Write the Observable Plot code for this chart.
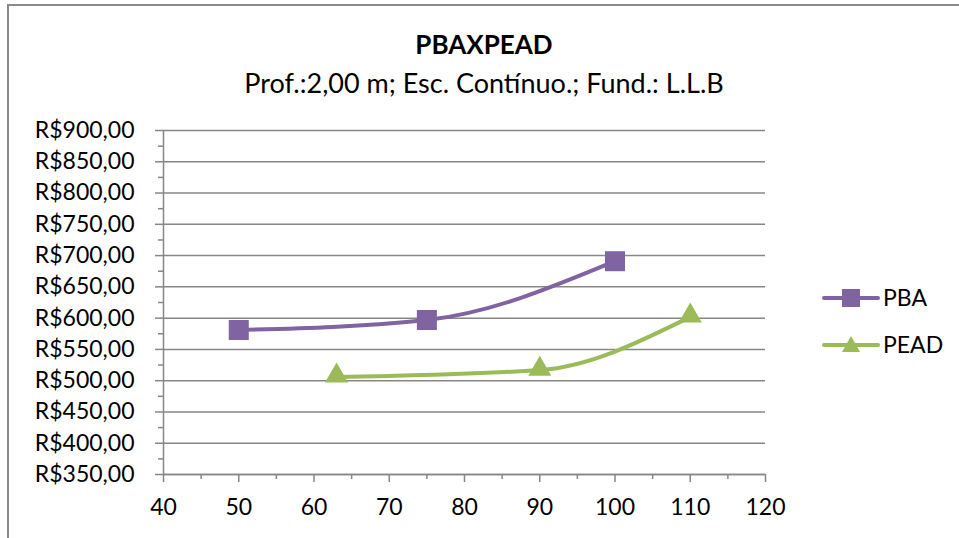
<!DOCTYPE html>
<html>
<head>
<meta charset="utf-8">
<script src="https://cdn.jsdelivr.net/npm/d3@7"></script>
<script src="https://cdn.jsdelivr.net/npm/@observablehq/plot@0.6"></script>
<style>
  html, body { margin: 0; padding: 0; background: #fff; }
  #wrap { position: relative; width: 959px; height: 538px; font-family: Lato, "Open Sans", sans-serif; overflow: hidden; }
  #frame { position: absolute; left: 7px; top: 4px; width: 960px; height: 600px; border-left: 2px solid #8a8a8a; border-top: 2px solid #8a8a8a; box-sizing: border-box; }
  #title { position: absolute; left: 0; width: 968px; top: 28px; text-align: center; font-size: 26px; font-weight: bold; color: #000; line-height: 32px; }
  #subtitle { position: absolute; left: 0; width: 968px; top: 66px; text-align: center; font-size: 27px; color: #000; line-height: 34px; }
  #chart { position: absolute; left: 0; top: 0; }
  #legend { position: absolute; left: 822px; top: 273px; font-size: 23px; color: #000; }
  .item { display: flex; align-items: center; height: 47px; }
  .item svg { margin-right: 3px; }
</style>
</head>
<body>
<div id="wrap">
  <div id="frame"></div>
  <div id="chart"></div>
  <div id="title"></div>
  <div id="subtitle"></div>
  <div id="legend"></div>
</div>
<script>
const titleText = "PBAXPEAD";
const subtitleText = "Prof.:2,00 m; Esc. Contínuo.; Fund.: L.L.B";
const seriesNames = ["PBA", "PEAD"];
const seriesColors = ["#8064A2", "#9BBB59"];
const pbaX = [50, 75, 100];
const pbaY = [581, 597, 691];
const peadX = [63, 90, 110];
const peadY = [506, 517, 602];
const xTicks = [40, 50, 60, 70, 80, 90, 100, 110, 120];
const yTicks = [350, 400, 450, 500, 550, 600, 650, 700, 750, 800, 850, 900];

document.getElementById("title").textContent = titleText;
document.getElementById("subtitle").textContent = subtitleText;

const pba = pbaX.map((x, i) => ({x, y: pbaY[i], s: seriesNames[0]}));
const pead = peadX.map((x, i) => ({x, y: peadY[i], s: seriesNames[1]}));

const locale = d3.formatLocale({decimal: ",", thousands: ".", grouping: [3], currency: ["R$", ""]});
const fmt = locale.format("$.2f");

const xMinor = d3.range(45, 120, 10);
const yMinor = d3.range(375, 900, 50);
const gray = "#878787";

const plot = Plot.plot({
  width: 959,
  height: 538,
  marginLeft: 163,
  marginRight: 194,
  marginTop: 130,
  marginBottom: 64,
  style: {fontFamily: "Lato, 'Open Sans', sans-serif", fontSize: "23px", color: "#000", background: "transparent"},
  x: {domain: [40, 120]},
  y: {domain: [350, 900]},
  marks: [
    Plot.gridY(yTicks, {stroke: gray, strokeOpacity: 1, strokeWidth: 1.5}),
    Plot.ruleX([40], {stroke: gray, strokeWidth: 1.5}),
    Plot.ruleY([350], {stroke: gray, strokeWidth: 1.5}),
    Plot.axisY(yTicks, {tickSize: 8, tickPadding: 21, tickFormat: fmt, stroke: gray, strokeWidth: 1.5, fill: "#000", label: null}),
    Plot.axisY(yMinor, {tickSize: 5, tickFormat: () => "", stroke: gray, strokeWidth: 1.5, label: null}),
    Plot.axisX(xTicks, {tickSize: 8, tickPadding: 16, stroke: gray, strokeWidth: 1.5, fill: "#000", label: null}),
    Plot.axisX(xMinor, {tickSize: 5, tickFormat: () => "", stroke: gray, strokeWidth: 1.5, label: null}),
    Plot.line(pba, {x: "x", y: "y", stroke: seriesColors[0], strokeWidth: 4, curve: "monotone-x"}),
    Plot.line(pead, {x: "x", y: "y", stroke: seriesColors[1], strokeWidth: 4, curve: "monotone-x"}),
    Plot.dot(pba, {x: "x", y: "y", symbol: "square", r: 11.3, fill: seriesColors[0], stroke: "none"}),
    Plot.dot(pead, {x: "x", y: "y", symbol: "triangle", r: 8.6, fill: seriesColors[1], stroke: "none", dy: -1})
  ]
});
document.getElementById("chart").appendChild(plot);

// legend
const legend = document.getElementById("legend");
seriesNames.forEach((name, i) => {
  const item = document.createElement("div");
  item.className = "item";
  const ns = "http://www.w3.org/2000/svg";
  const svg = document.createElementNS(ns, "svg");
  svg.setAttribute("width", 58);
  svg.setAttribute("height", 24);
  const ln = document.createElementNS(ns, "line");
  ln.setAttribute("x1", 2); ln.setAttribute("x2", 56);
  ln.setAttribute("y1", 13); ln.setAttribute("y2", 13);
  ln.setAttribute("stroke", seriesColors[i]); ln.setAttribute("stroke-width", 4);
  ln.setAttribute("stroke-linecap", "round");
  svg.appendChild(ln);
  if (i === 0) {
    const r = document.createElementNS(ns, "rect");
    r.setAttribute("x", 20); r.setAttribute("y", 4); r.setAttribute("width", 18); r.setAttribute("height", 18);
    r.setAttribute("fill", seriesColors[i]);
    svg.appendChild(r);
  } else {
    const p = document.createElementNS(ns, "path");
    p.setAttribute("d", "M29,4 L38,20 L20,20 Z");
    p.setAttribute("fill", seriesColors[i]);
    svg.appendChild(p);
  }
  item.appendChild(svg);
  const t = document.createElement("span");
  t.textContent = name;
  item.appendChild(t);
  legend.appendChild(item);
});
</script>
</body>
</html>
